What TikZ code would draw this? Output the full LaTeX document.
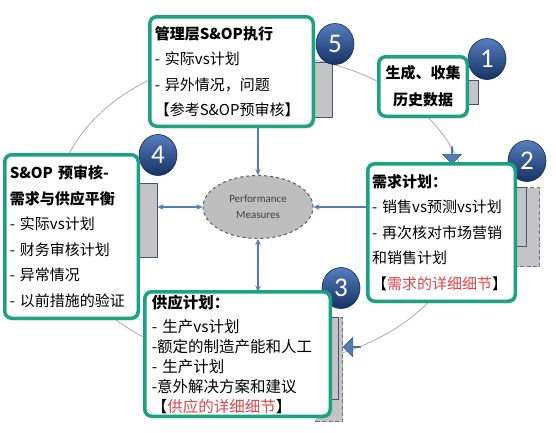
\documentclass[tikz,border=0pt]{standalone}
\usepackage{fontspec}
\setmainfont{Noto Sans CJK SC}
\newfontfamily\numfont{Carlito}
\usetikzlibrary{arrows.meta,calc,shapes.geometric,shapes.arrows,shadows,backgrounds}

\definecolor{boxteal}{RGB}{28,162,128}
\definecolor{tabgray}{RGB}{196,196,198}
\definecolor{tabedge}{RGB}{65,85,120}
\definecolor{balltop}{RGB}{85,125,190}
\definecolor{ballbot}{RGB}{22,50,98}
\definecolor{linkblue}{RGB}{79,125,180}
\definecolor{ringgray}{RGB}{170,170,170}
\definecolor{perffill}{RGB}{190,190,190}
\definecolor{detailred}{RGB}{220,70,75}

\tikzset{
  stagebox/.style={draw=boxteal,line width=3.5pt,rounded corners=7pt,fill=white,
    inner xsep=5pt,inner ysep=0pt,outer sep=0pt,
    drop shadow={opacity=0.3,shadow xshift=1.5pt,shadow yshift=-2pt},
    font=\fontsize{15}{25.5}\selectfont},
  tabbox/.style={draw=tabedge,line width=1.2pt,fill=tabgray,inner sep=0pt,outer sep=0pt},
  dashtab/.style={draw=black!55,dash pattern=on 4pt off 2.5pt,line width=1.3pt,fill=tabgray,inner sep=0pt,outer sep=0pt},
  numball/.style={ellipse,draw=ballbot!80!black,line width=0.6pt,top color=balltop,bottom color=ballbot,
    minimum width=38pt,minimum height=41pt,inner sep=0pt,text=white,font=\numfont\fontsize{27}{27}\selectfont},
  link/.style={draw=linkblue,line width=1.5pt},
  ringarrow/.style={single arrow,fill=linkblue,draw=linkblue!70!black,line width=0.6pt,inner sep=0pt,
    minimum height=17pt,minimum width=19pt,single arrow head extend=4.5pt,single arrow head indent=0pt}
}

\begin{document}
\begin{tikzpicture}[x=1pt,y=-1pt,>={Stealth[length=6pt,width=5.5pt]}]
  \useasboundingbox (0,0) rectangle (556,432);

  % the S&OP cycle
  \node[ellipse,draw=ringgray,line width=0.8pt,minimum width=414pt,minimum height=310pt] (ring) at (262,210) {};
  \node[ringarrow,rotate=-90] (ringarrowa) at (452,155) {};
  \node[ringarrow,rotate=180] (ringarrowb) at (352,347) {};

  % performance measures in the middle
  \node[ellipse,draw=black!65,dashed,line width=1pt,fill=perffill,minimum width=110pt,minimum height=63pt,
    align=center,text=black!75,font=\numfont\fontsize{11}{16}\selectfont] (perf) at (258,207) {Performance\\Measures};

  % tabs behind the boxes
  \node[tabbox,minimum width=32pt,minimum height=55pt] (tab5) at (316.5,90) {};
  \node[tabbox,minimum width=23pt,minimum height=24pt] (tab1) at (467,92.5) {};
  \node[dashtab,minimum width=39pt,minimum height=79pt] (tab2b) at (520,227) {};
  \node[tabbox,minimum width=31pt,minimum height=59pt] (tab2) at (511,217) {};
  \node[dashtab,minimum width=27pt,minimum height=104pt] (tab3b) at (329,369.5) {};
  \node[tabbox,minimum width=23pt,minimum height=82pt] (tab3) at (327,358.5) {};
  \node[tabbox,minimum width=37pt,minimum height=74pt] (tab4) at (139,220.5) {};

  \node[numball] (ball5) at (335,44) {5};
  \node[numball] (ball1) at (487,59) {1};
  \node[numball] (ball2) at (527,161) {2};
  \node[numball] (ball4) at (158,155) {4};
  \node[numball] (ball3) at (341,288) {3};

  % the five stages
  \node[stagebox,text width=153.5pt,minimum height=109.5pt,align=left] (mgmt) at (231.5,71.5)
    {{\bfseries 管理层S\&OP执行}\\- 实际vs计划\\- 异外情况，问题\\【参考S\&OP预审核】};
  \node[stagebox,text width=78.5pt,minimum height=59.5pt,align=center,font=\bfseries\fontsize{15}{27}\selectfont] (gen) at (423,86.5)
    {生成、收集\\历史数据};
  \node[stagebox,inner xsep=4.25pt,text width=139pt,minimum height=137.5pt,align=left] (dmd) at (441.5,232.5)
    {{\bfseries 需求计划：}\\- 销售vs预测vs计划\\- 再次核对市场营销\\和销售计划\\【\textcolor{detailred}{需求的详细细节}】};
  \node[stagebox,text width=123.5pt,minimum height=163.5pt,align=left] (sop) at (71.5,236.5)
    {{\bfseries S\&OP 预审核-}\\{\bfseries 需求与供应平衡}\\- 实际vs计划\\- 财务审核计划\\- 异常情况\\- 以前措施的验证};
  \node[stagebox,inner xsep=7pt,text width=171.5pt,minimum height=124.5pt,align=left,font=\fontsize{15.5}{20}\selectfont] (sup) at (237.5,354)
    {{\bfseries 供应计划：}\\[4pt]- 生产vs计划\\-额定的制造产能和人工\\- 生产计划\\-意外解决方案和建议\\【\textcolor{detailred}{供应的详细细节}】};

  % links to the measures
  \begin{scope}[on background layer]
    \draw[link,->] (perf.north |- mgmt.south) -- (perf.north);
    \draw[link,->] (perf.east -| dmd.west) -- (perf.east);
    \draw[link,<->] (perf.west -| tab4.east) -- (perf.west);
    \draw[link,<->] (perf.south |- sup.north) -- (perf.south);
  \end{scope}
\end{tikzpicture}
\end{document}
